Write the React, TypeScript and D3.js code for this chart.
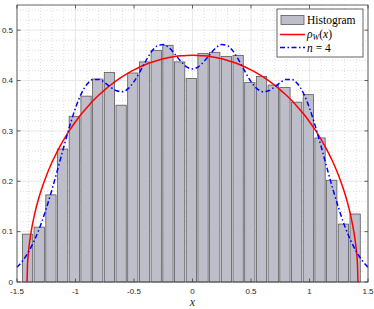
import React from "react";
import * as d3 from "d3";

// histogram bars (bin centres and heights)
const barCenters = [
  -1.4, -1.3, -1.2, -1.1, -1.0, -0.9, -0.8, -0.7, -0.6, -0.5, -0.4, -0.3, -0.2, -0.1, 0,
  0.1, 0.2, 0.3, 0.4, 0.5, 0.6, 0.7, 0.8, 0.9, 1.0, 1.1, 1.2, 1.3, 1.4,
];
const barHeights = [
  0.095, 0.109, 0.173, 0.264, 0.329, 0.369, 0.403, 0.416, 0.351, 0.415, 0.437, 0.46, 0.47, 0.437, 0.404,
  0.454, 0.456, 0.448, 0.45, 0.396, 0.408, 0.391, 0.386, 0.357, 0.372, 0.286, 0.202, 0.115, 0.135,
];

// n = 4 curve
const curveX = d3.range(-30, 31).map((k) => k / 20);
const nFourValues = [
  0.0292, 0.0426, 0.0605, 0.0835, 0.1119, 0.1458, 0.1842, 0.2258, 0.2684, 0.3092,
  0.3453, 0.3741, 0.393, 0.4021, 0.4022, 0.3958, 0.3869, 0.3796, 0.3779, 0.3839,
  0.3978, 0.4174, 0.4388, 0.4574, 0.469, 0.4714, 0.465, 0.4524, 0.4382, 0.4273,
  0.4231,
  0.4273, 0.4382, 0.4524, 0.465, 0.4714, 0.469, 0.4574, 0.4388, 0.4174, 0.3978,
  0.3839, 0.3779, 0.3796, 0.3869, 0.3958, 0.4022, 0.4021, 0.393, 0.3741, 0.3453,
  0.3092, 0.2684, 0.2258, 0.1842, 0.1458, 0.1119, 0.0835, 0.0605, 0.0426, 0.0292,
];

// semicircle curve
const rhoX = [
  -1.4142, -1.41, -1.4, -1.38, -1.35, -1.3, -1.25, -1.2, -1.15, -1.1, -1.05, -1, -0.95, -0.9,
  -0.85, -0.8, -0.75, -0.7, -0.65, -0.6, -0.55, -0.5, -0.45, -0.4, -0.35, -0.3, -0.25, -0.2,
  -0.15, -0.1, -0.05, 0,
  0.05, 0.1, 0.15, 0.2, 0.25, 0.3, 0.35, 0.4, 0.45, 0.5, 0.55, 0.6, 0.65, 0.7, 0.75, 0.8,
  0.85, 0.9, 0.95, 1, 1.05, 1.1, 1.15, 1.2, 1.25, 1.3, 1.35, 1.38, 1.4, 1.41, 1.4142,
];
const rhoValues = [
  0, 0.0347, 0.0637, 0.0984, 0.1341, 0.1772, 0.2105, 0.2382, 0.262, 0.2829, 0.3016, 0.3183, 0.3335, 0.3472,
  0.3598, 0.3712, 0.3816, 0.3911, 0.3998, 0.4076, 0.4147, 0.4211, 0.4268, 0.4318, 0.4362, 0.4399, 0.4431, 0.4456,
  0.4476, 0.449, 0.4499, 0.4502,
  0.4499, 0.449, 0.4476, 0.4456, 0.4431, 0.4399, 0.4362, 0.4318, 0.4268, 0.4211, 0.4147, 0.4076, 0.3998, 0.3911,
  0.3816, 0.3712, 0.3598, 0.3472, 0.3335, 0.3183, 0.3016, 0.2829, 0.262, 0.2382, 0.2105, 0.1772, 0.1341, 0.0984,
  0.0637, 0.0347, 0,
];

const xTicks = [-1.5, -1, -0.5, 0, 0.5, 1, 1.5];
const xTickLabels = ["-1.5", "-1", "-0.5", "0", "0.5", "1", "1.5"];
const yTicks = [0, 0.1, 0.2, 0.3, 0.4, 0.5];
const yTickLabels = ["0", "0.1", "0.2", "0.3", "0.4", "0.5"];

const W = 374;
const H = 309;
const L = 17, R = 368, T = 5, B = 282;
const axisColor = "#404040";
const textColor = "#262626";
const sans = "'Liberation Sans', Arial, sans-serif";
const serif = "'Liberation Serif', 'DejaVu Serif', serif";

export default function App() {
  const x = d3.scaleLinear().domain([-1.5, 1.5]).range([L, R]);
  const y = d3.scaleLinear().domain([0, 0.55]).range([B, T]);

  const xMinor = d3.range(-15, 16).map((k) => k / 10).filter((v) => Math.abs(v * 2 - Math.round(v * 2)) > 1e-6);
  const yMinor = d3.range(1, 28).map((k) => k / 50).filter((v) => Math.abs(v * 10 - Math.round(v * 10)) > 1e-6);

  const line = d3
    .line<number>()
    .x((d, i) => x(curveX[i]))
    .y((d) => y(d))
    .curve(d3.curveMonotoneX);
  const rhoLine = d3
    .line<number>()
    .x((d, i) => x(rhoX[i]))
    .y((d) => y(d))
    .curve(d3.curveMonotoneX);

  const binShift = -0.01;
  const barW = x(0.088) - x(0);
  const tick = 3.5;

  return (
    <svg width={W} height={H} style={{ position: "absolute", left: 0, top: 0, background: "#fff" }}>
      <rect x={0} y={0} width={W} height={H} fill="#fff" />
      {/* grid */}
      {yMinor.map((v) => (
        <line key={"ym" + v} x1={L} x2={R} y1={y(v)} y2={y(v)} stroke="#c8c8c8" strokeWidth={0.6} strokeDasharray="1,2" />
      ))}
      {xMinor.map((v) => (
        <line key={"xm" + v} x1={x(v)} x2={x(v)} y1={T} y2={B} stroke="#c8c8c8" strokeWidth={0.6} strokeDasharray="1,2" />
      ))}
      {yTicks.map((v) => (
        <line key={"yg" + v} x1={L} x2={R} y1={y(v)} y2={y(v)} stroke="#e2e2e2" strokeWidth={0.8} />
      ))}
      {xTicks.map((v) => (
        <line key={"xg" + v} x1={x(v)} x2={x(v)} y1={T} y2={B} stroke="#e2e2e2" strokeWidth={0.8} />
      ))}

      {/* bars */}
      {barCenters.map((c, i) => (
        <rect
          key={"b" + i}
          x={x(c + binShift) - barW / 2}
          y={y(barHeights[i])}
          width={barW}
          height={y(0) - y(barHeights[i])}
          fill="#bebecb"
          stroke="#5a5a5a"
          strokeWidth={0.8}
        />
      ))}

      {/* curves */}
      <path d={rhoLine(rhoValues) || ""} fill="none" stroke="#ff0000" strokeWidth={1.5} />
      <path d={line(nFourValues) || ""} fill="none" stroke="#0000ff" strokeWidth={1.5} strokeDasharray="5,2.5,1.5,2.5" />

      {/* axes box */}
      <rect x={L} y={T} width={R - L} height={B - T} fill="none" stroke={axisColor} strokeWidth={0.8} />
      {xTicks.map((v) => (
        <g key={"xt" + v}>
          <line x1={x(v)} x2={x(v)} y1={B} y2={B - tick} stroke={axisColor} strokeWidth={0.8} />
          <line x1={x(v)} x2={x(v)} y1={T} y2={T + tick} stroke={axisColor} strokeWidth={0.8} />
        </g>
      ))}
      {yTicks.map((v) => (
        <g key={"yt" + v}>
          <line x1={L} x2={L + tick} y1={y(v)} y2={y(v)} stroke={axisColor} strokeWidth={0.8} />
          <line x1={R} x2={R - tick} y1={y(v)} y2={y(v)} stroke={axisColor} strokeWidth={0.8} />
        </g>
      ))}
      {xTicks.map((v, i) => (
        <text key={"xl" + v} x={x(v)} y={B + 12} textAnchor="middle" fontFamily={sans} fontSize={8} fill={textColor}>
          {xTickLabels[i]}
        </text>
      ))}
      {yTicks.map((v, i) => (
        <text key={"yl" + v} x={L - 4} y={y(v) + 2.8} textAnchor="end" fontFamily={sans} fontSize={8} fill={textColor}>
          {yTickLabels[i]}
        </text>
      ))}
      <text x={x(0)} y={306} textAnchor="middle" fontFamily={serif} fontStyle="italic" fontSize={12} fill={textColor}>
        x
      </text>

      {/* legend */}
      <g fontFamily={serif} fontSize={11.5} fill="#000">
        <rect x={277} y={9} width={86} height={48} fill="#fff" stroke={axisColor} strokeWidth={0.8} />
        <rect x={281} y={15.5} width={23} height={9} fill="#bebecb" stroke="#5a5a5a" strokeWidth={0.8} />
        <text x={307} y={24}>Histogram</text>
        <line x1={280} x2={305} y1={34.5} y2={34.5} stroke="#ff0000" strokeWidth={1.5} />
        <text x={307} y={38}>
          <tspan fontStyle="italic">ρ</tspan>
          <tspan fontStyle="italic" fontSize={8} dy={2}>W</tspan>
          <tspan dy={-2}>(</tspan>
          <tspan fontStyle="italic">x</tspan>
          <tspan>)</tspan>
        </text>
        <line x1={280} x2={305} y1={47.5} y2={47.5} stroke="#0000ff" strokeWidth={1.5} strokeDasharray="5,2.5,1.5,2.5" />
        <text x={307} y={51.5}>
          <tspan fontStyle="italic">n</tspan>
          <tspan> = 4</tspan>
        </text>
      </g>
    </svg>
  );
}
